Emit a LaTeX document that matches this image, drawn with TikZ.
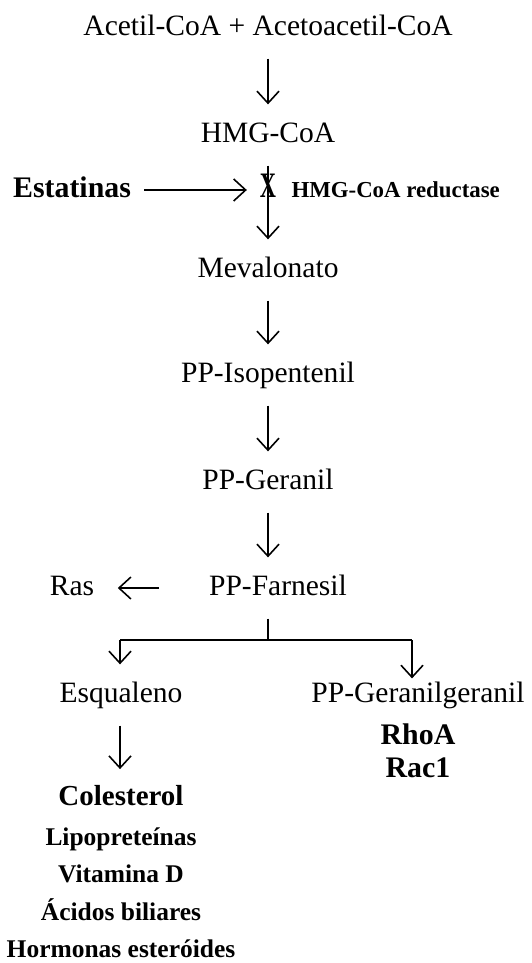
\documentclass[tikz,border=0pt]{standalone}
\usepackage{fontspec}
\setmainfont{Liberation Serif}
\usetikzlibrary{arrows.meta}
\begin{document}
\begin{tikzpicture}[x=0.02cm,y=-0.02cm,
  >={Straight Barb[length=2.4mm,width=4.4mm]},
  every node/.style={font=\fontsize{16.8}{19}\selectfont,inner sep=9pt,
    text height=12pt,text depth=4pt},
  every path/.style={line width=0.9pt},
  bold/.style={font=\fontsize{14.5}{17}\selectfont\bfseries,inner sep=1pt}]
\useasboundingbox (0,0) rectangle (531,963);
\node (acet) at (268,28) {Acetil-CoA + Acetoacetil-CoA};
\node (hmg) at (268,135) {HMG-CoA};
\node[font=\fontsize{17}{19}\selectfont\bfseries,inner sep=7pt] (est) at (72,190) {Estatinas};
\node[font=\fontsize{17}{19}\selectfont\bfseries,inner sep=7pt] (bloq) at (268,190) {\scalebox{0.75}[1.2]{X}};
\node[bold,anchor=west,font=\fontsize{13}{15}\selectfont\bfseries] (red) at (289,190) {HMG-CoA reductase};
\node (mev) at (268,270) {Mevalonato};
\node (iso) at (268,375) {PP-Isopentenil};
\node (ger) at (268,482) {PP-Geranil};
\node (far) at (278,588) {PP-Farnesil};
\node (ras) at (72,588) {Ras};
\coordinate (rama) at (268,640);
\coordinate (ramaE) at (120,640);
\coordinate (ramaG) at (412,640);
\node (esq) at (121,695) {Esqualeno};
\node[inner sep=1pt] (ggp) at (418,695) {PP-Geranilgeranil};
\node[bold,font=\fontsize{17}{19}\selectfont\bfseries] (rho) at (418,737) {RhoA};
\node[bold,font=\fontsize{17}{19}\selectfont\bfseries] (rac) at (418,770) {Rac1};
\node[bold,font=\fontsize{16.5}{19}\selectfont\bfseries,inner sep=8pt] (col) at (121,798) {Colesterol};
\node[bold] (lip) at (121,838) {Lipopreteínas};
\node[bold] (vit) at (121,875) {Vitamina D};
\node[bold] (aci) at (121,913) {Ácidos biliares};
\node[bold] (hor) at (121,950) {Hormonas esteróides};

\draw[->] (acet)--(hmg);
\draw[->] (est)--(bloq);
\draw[->] (hmg)--(mev);
\draw[->] (mev)--(iso);
\draw[->] (iso)--(ger);
\draw[->] (ger)--(far.north -| ger);
\draw[->,shorten <=19pt,shorten >=4pt] (far)--(ras);
\draw (far.south -| rama)--(rama);
\draw (ramaE)--(ramaG);
\draw[->] (ramaE)--(esq.north -| ramaE);
\draw[->] (ramaG)--(ggp.north -| ramaG);
\draw[->] (esq.south -| ramaE)--(col.north -| ramaE);
\end{tikzpicture}
\end{document}
